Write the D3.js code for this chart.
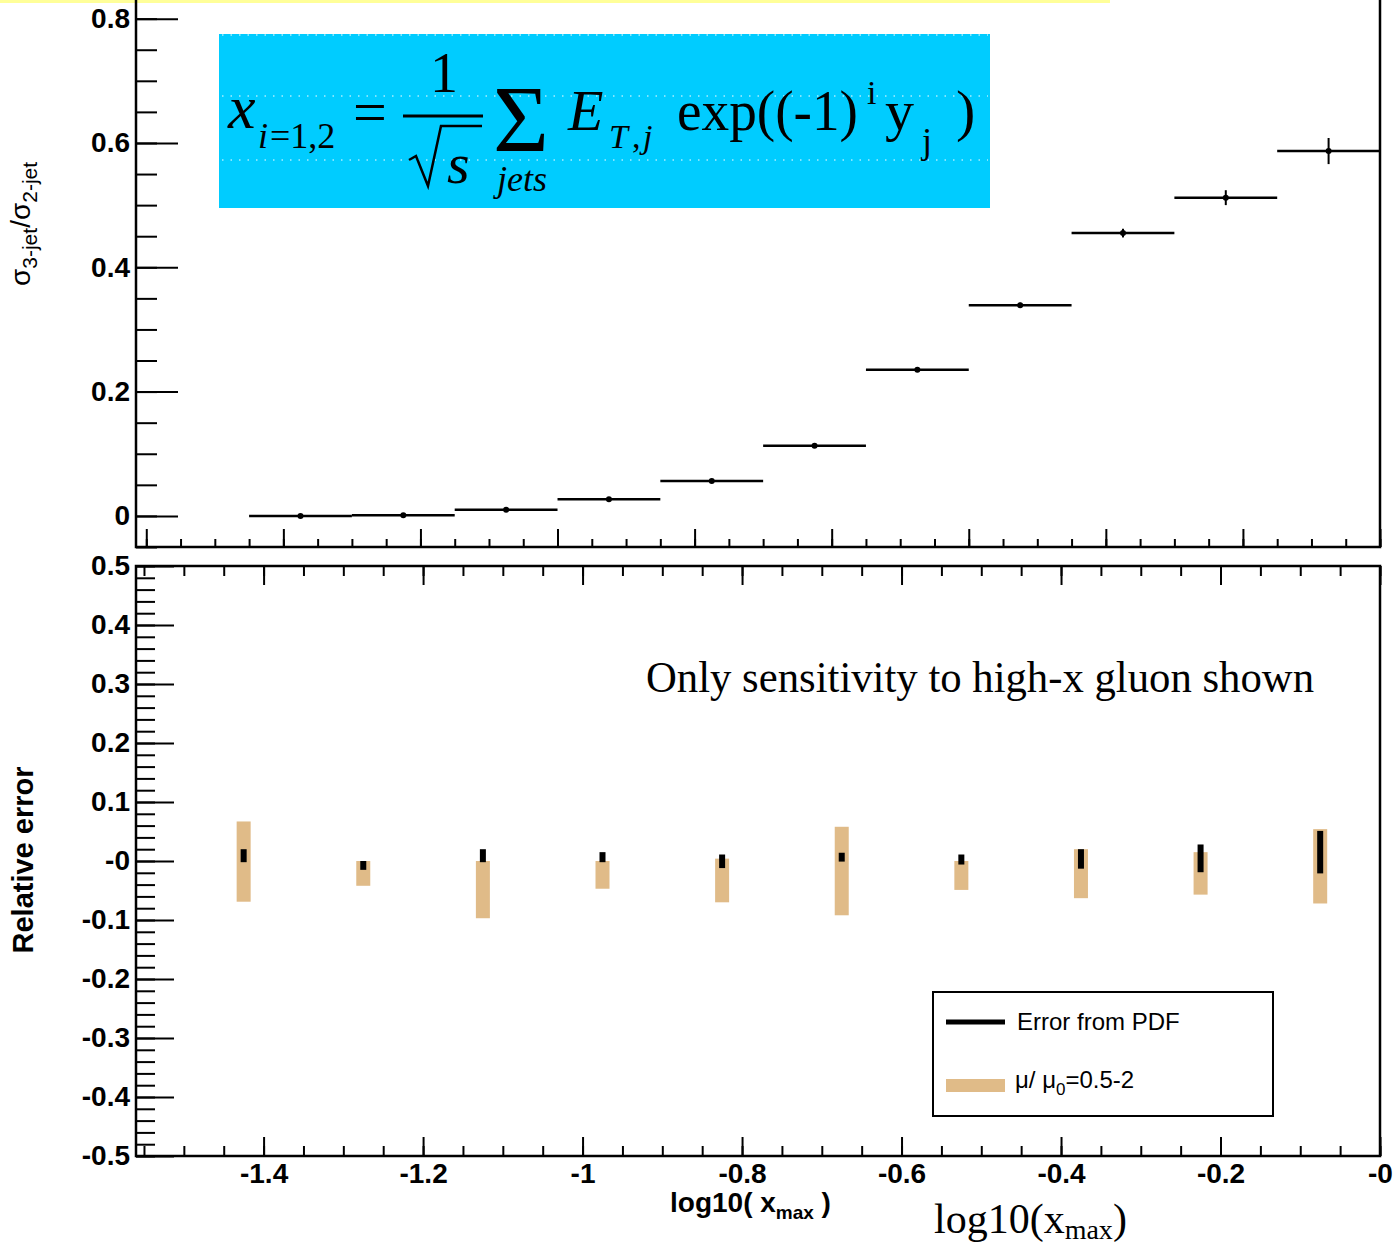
<!DOCTYPE html>
<html>
<head>
<meta charset="utf-8">
<script src="https://cdn.jsdelivr.net/npm/d3@7"></script>
<style>
  html, body { margin: 0; padding: 0; background: #fff; }
  svg { display: block; }
  .tick text { font-family: "Liberation Sans", Arial, sans-serif; font-weight: bold; font-size: 28px; fill: #000; }
</style>
</head>
<body>
<svg id="chart" width="1400" height="1248"></svg>
<script>
// ---- data ----
// upper panel: sigma(3-jet)/sigma(2-jet) per log10(x_max) bin
const topBinCenters = [-1.575, -1.425, -1.275, -1.125, -0.975, -0.825, -0.675, -0.525, -0.375, -0.225, -0.075];
const topBinHalfWidth = 0.075;
const topRatio = [0.000, 0.001, 0.010, 0.027, 0.056, 0.113, 0.235, 0.339, 0.455, 0.512, 0.587];
const topRatioErr = [0.000, 0.000, 0.000, 0.001, 0.002, 0.002, 0.003, 0.004, 0.007, 0.012, 0.021];

// lower panel: relative errors
const botBinCenters = [-1.425, -1.275, -1.125, -0.975, -0.825, -0.675, -0.525, -0.375, -0.225, -0.075];
const scaleHi = [0.067, 0.000, 0.000, 0.000, 0.004, 0.058, 0.000, 0.020, 0.015, 0.054];
const scaleLo = [-0.069, -0.042, -0.097, -0.047, -0.070, -0.092, -0.049, -0.063, -0.057, -0.072];
const pdfHi = [0.020, 0.000, 0.020, 0.015, 0.011, 0.014, 0.011, 0.020, 0.028, 0.051];
const pdfLo = [-0.002, -0.015, -0.002, -0.002, -0.012, -0.001, -0.006, -0.013, -0.019, -0.021];

// tick labels
const topYTicks = [0, 0.2, 0.4, 0.6, 0.8];
const topYLabels = ["0", "0.2", "0.4", "0.6", "0.8"];
const botYTicks = [-0.5, -0.4, -0.3, -0.2, -0.1, 0, 0.1, 0.2, 0.3, 0.4, 0.5];
const botYLabels = ["-0.5", "-0.4", "-0.3", "-0.2", "-0.1", "-0", "0.1", "0.2", "0.3", "0.4", "0.5"];
const botXTicks = [-1.4, -1.2, -1.0, -0.8, -0.6, -0.4, -0.2, 0];
const botXLabels = ["-1.4", "-1.2", "-1", "-0.8", "-0.6", "-0.4", "-0.2", "-0"];
const topXTicks = [-1.8, -1.6, -1.4, -1.2, -1.0, -0.8, -0.6, -0.4, -0.2, 0];

const TAN = "#E0BB88";
const svg = d3.select("#chart");

// ---- scales ----
const L = 136, R = 1380;
const xTop = d3.scaleLinear().domain([-1.815, 0]).range([L, R]);
const yTop = d3.scaleLinear().domain([-0.05, 0.83]).range([547, 0]);
const xBot = d3.scaleLinear().domain([-1.56, 0]).range([L, R]);
const yBot = d3.scaleLinear().domain([-0.5, 0.5]).range([1156, 566]);

// little yellow strip at the top edge
svg.append("rect").attr("x", 0).attr("y", 0).attr("width", 1110).attr("height", 3).attr("fill", "#FFFF99");

function minorTicks(lo, hi, step) {
  const out = [];
  for (let v = lo; v <= hi + 1e-9; v += step) out.push(+v.toFixed(4));
  return out;
}

function strip(g) { g.select(".domain").remove(); g.selectAll(".tick line").attr("stroke", "#000").attr("stroke-width", 2); }

// ================= upper panel =================
const topG = svg.append("g");

topG.append("g").attr("transform", `translate(${L},0)`)
  .call(d3.axisLeft(yTop).tickValues(minorTicks(-0.05, 0.8, 0.05)).tickSize(-21).tickFormat(""))
  .call(strip);
topG.append("g").attr("transform", `translate(${L},0)`)
  .call(d3.axisLeft(yTop).tickValues(topYTicks).tickSize(-42).tickPadding(6)
    .tickFormat((d, i) => topYLabels[i]))
  .call(strip);

topG.append("g").attr("transform", "translate(0,547)")
  .call(d3.axisBottom(xTop).tickValues(minorTicks(-1.8, 0, 0.05)).tickSize(-8).tickFormat(""))
  .call(strip);
topG.append("g").attr("transform", "translate(0,547)")
  .call(d3.axisBottom(xTop).tickValues(topXTicks).tickSize(-18).tickFormat(""))
  .call(strip);

// frame (top edge is outside the picture)
topG.append("path")
  .attr("d", `M${L},0V547H${R}V0`)
  .attr("fill", "none").attr("stroke", "#000").attr("stroke-width", 2.5);

// bins
const topPts = topG.append("g");
topPts.selectAll("line.h").data(topBinCenters).join("line").attr("class", "h")
  .attr("x1", d => xTop(d - topBinHalfWidth)).attr("x2", d => xTop(d + topBinHalfWidth))
  .attr("y1", (d, i) => yTop(topRatio[i])).attr("y2", (d, i) => yTop(topRatio[i]))
  .attr("stroke", "#000").attr("stroke-width", 2.5);
topPts.selectAll("line.v").data(topBinCenters).join("line").attr("class", "v")
  .attr("x1", d => xTop(d)).attr("x2", d => xTop(d))
  .attr("y1", (d, i) => yTop(topRatio[i] - topRatioErr[i]))
  .attr("y2", (d, i) => yTop(topRatio[i] + topRatioErr[i]))
  .attr("stroke", "#000").attr("stroke-width", 2);
topPts.selectAll("circle").data(topBinCenters).join("circle")
  .attr("cx", d => xTop(d)).attr("cy", (d, i) => yTop(topRatio[i]))
  .attr("r", 3).attr("fill", "#000");

// y title
topG.append("text")
  .attr("transform", "translate(30,286) rotate(-90)")
  .attr("font-family", "Liberation Sans, Arial, sans-serif")
  .attr("font-size", 28)
  .call(t => {
    t.append("tspan").text("σ");
    t.append("tspan").attr("font-size", 21).attr("dy", 7).text("3-jet");
    t.append("tspan").attr("dy", -7).text("/");
    t.append("tspan").text("σ");
    t.append("tspan").attr("font-size", 21).attr("dy", 7).text("2-jet");
  });

// formula box
const fb = topG.append("g");
fb.append("rect").attr("x", 219).attr("y", 34).attr("width", 771).attr("height", 174).attr("fill", "#00CCFF");
[35, 96, 160].forEach(yy => fb.append("line")
  .attr("x1", 222).attr("x2", 988).attr("y1", yy).attr("y2", yy)
  .attr("stroke", "#fff").attr("stroke-width", 1).attr("stroke-dasharray", "1.5,7"));

const serif = "Liberation Serif, Times New Roman, serif";
function ftxt(str, x, y, size, italic) {
  return fb.append("text").attr("x", x).attr("y", y)
    .attr("font-family", serif).attr("font-size", size)
    .attr("font-style", italic ? "italic" : "normal").attr("fill", "#000").text(str);
}
ftxt("x", 228, 128, 62, true);
ftxt("i", 258, 148, 36, true);
ftxt("=1,2", 270, 148, 36, false);
ftxt("=", 353, 132, 60, false);
ftxt("1", 430, 92, 56, false);
fb.append("line").attr("x1", 403).attr("x2", 483).attr("y1", 116).attr("y2", 116).attr("stroke", "#000").attr("stroke-width", 3);
fb.append("path").attr("d", "M409,160 L416,156 L428,186 L441,126 L482,126")
  .attr("fill", "none").attr("stroke", "#000").attr("stroke-width", 2.5);
ftxt("s", 447, 183, 58, true);
ftxt("Σ", 493, 152, 96, false);
ftxt("jets", 497, 191, 36, true);
ftxt("E", 568, 130, 58, true);
ftxt("T", 609, 148, 34, true);
ftxt(",", 632, 148, 34, false);
ftxt("j", 643, 148, 34, true);
ftxt("exp((-1)", 677, 130, 58, false).attr("textLength", 181).attr("lengthAdjust", "spacingAndGlyphs");
ftxt("i", 867, 104, 34, false);
ftxt("y", 885, 130, 58, false);
ftxt("j", 922, 153, 36, false);
ftxt(")", 956, 130, 58, false);

// ================= lower panel =================
const botG = svg.append("g");

botG.append("g").attr("transform", `translate(${L},0)`)
  .call(d3.axisLeft(yBot).tickValues(minorTicks(-0.5, 0.5, 0.02)).tickSize(-19).tickFormat(""))
  .call(strip);
botG.append("g").attr("transform", `translate(${L},0)`)
  .call(d3.axisLeft(yBot).tickValues(botYTicks).tickSize(-38).tickPadding(6)
    .tickFormat((d, i) => botYLabels[i]))
  .call(strip);

[[566, d3.axisTop], [1156, d3.axisBottom]].forEach(([yy, ax]) => {
  botG.append("g").attr("transform", `translate(0,${yy})`)
    .call(ax(xBot).tickValues(minorTicks(-1.55, 0, 0.05)).tickSize(-10).tickFormat(""))
    .call(strip);
});
botG.append("g").attr("transform", "translate(0,566)")
  .call(d3.axisTop(xBot).tickValues(botXTicks).tickSize(-19).tickFormat(""))
  .call(strip);
botG.append("g").attr("transform", "translate(0,1156)")
  .call(d3.axisBottom(xBot).tickValues(botXTicks).tickSize(-19).tickPadding(7)
    .tickFormat((d, i) => botXLabels[i]))
  .call(strip);

botG.append("rect").attr("x", L).attr("y", 566).attr("width", R - L).attr("height", 590)
  .attr("fill", "none").attr("stroke", "#000").attr("stroke-width", 2.5);

// scale variation bands
botG.append("g").selectAll("rect").data(botBinCenters).join("rect")
  .attr("x", d => xBot(d) - 7).attr("width", 14)
  .attr("y", (d, i) => yBot(scaleHi[i]))
  .attr("height", (d, i) => yBot(scaleLo[i]) - yBot(scaleHi[i]))
  .attr("fill", TAN);
// pdf errors
botG.append("g").selectAll("rect").data(botBinCenters).join("rect")
  .attr("x", d => xBot(d) - 3).attr("width", 6)
  .attr("y", (d, i) => yBot(pdfHi[i]))
  .attr("height", (d, i) => yBot(pdfLo[i]) - yBot(pdfHi[i]))
  .attr("fill", "#000");

botG.append("text").attr("x", 646).attr("y", 692)
  .attr("font-family", serif).attr("font-size", 44)
  .attr("textLength", 668).attr("lengthAdjust", "spacingAndGlyphs")
  .text("Only sensitivity to high-x gluon shown");

// legend
const lg = botG.append("g");
lg.append("rect").attr("x", 933).attr("y", 992).attr("width", 340).attr("height", 124)
  .attr("fill", "#fff").attr("stroke", "#000").attr("stroke-width", 2);
lg.append("line").attr("x1", 946).attr("x2", 1005).attr("y1", 1022).attr("y2", 1022)
  .attr("stroke", "#000").attr("stroke-width", 5);
lg.append("rect").attr("x", 946).attr("y", 1079).attr("width", 59).attr("height", 13).attr("fill", TAN);
lg.append("text").attr("x", 1017).attr("y", 1030)
  .attr("font-family", "Liberation Sans, Arial, sans-serif").attr("font-size", 24)
  .text("Error from PDF");
lg.append("text").attr("x", 1015).attr("y", 1088)
  .attr("font-family", "Liberation Sans, Arial, sans-serif").attr("font-size", 24)
  .call(t => {
    t.append("tspan").text("μ/ μ");
    t.append("tspan").attr("font-size", 17).attr("dy", 7).text("0");
    t.append("tspan").attr("dy", -7).text("=0.5-2");
  });

// y title lower
botG.append("text")
  .attr("transform", "translate(33,860) rotate(-90)")
  .attr("text-anchor", "middle")
  .attr("font-family", "Liberation Sans, Arial, sans-serif").attr("font-weight", "bold").attr("font-size", 29)
  .text("Relative error");

// x titles
svg.append("text").attr("x", 670).attr("y", 1212)
  .attr("font-family", "Liberation Sans, Arial, sans-serif").attr("font-weight", "bold").attr("font-size", 28)
  .call(t => {
    t.append("tspan").text("log10( x");
    t.append("tspan").attr("font-size", 19).attr("dy", 7).text("max");
    t.append("tspan").attr("dy", -7).text(" )");
  });
svg.append("text").attr("x", 934).attr("y", 1233)
  .attr("font-family", serif).attr("font-size", 42)
  .call(t => {
    t.append("tspan").text("log10(x");
    t.append("tspan").attr("font-size", 28).attr("dy", 6).text("max");
    t.append("tspan").attr("dy", -6).text(")");
  });
</script>
</body>
</html>
